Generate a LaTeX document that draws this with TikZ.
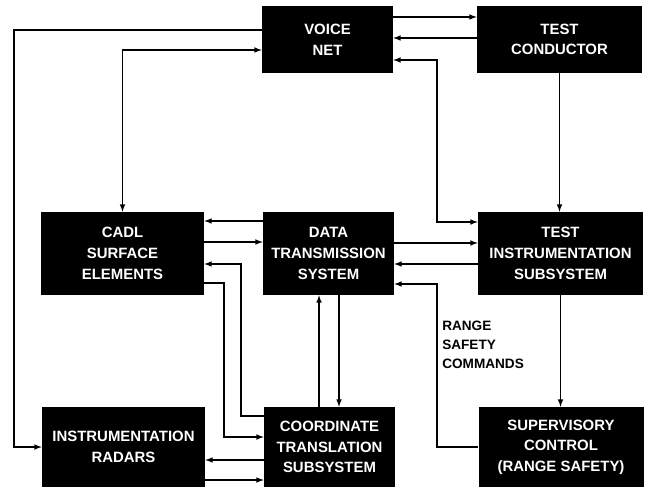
\documentclass[tikz,border=0pt]{standalone}
\usepackage{fontspec}
\setmainfont{Liberation Sans}
\usetikzlibrary{arrows}

\tikzset{
  blk/.style={fill=black, text=white, align=center, inner sep=0pt, font=\fontsize{11.2}{15.5}\selectfont\bfseries},
  wl/.style={minimum width=122.25pt}, wm/.style={minimum width=98.25pt}, wr/.style={minimum width=123.75pt},
  ht/.style={minimum height=50.25pt}, hm/.style={minimum height=62.25pt}, hb/.style={minimum height=60pt},
  wire/.style={line width=0.9pt, >=latex},
  lbl/.style={align=left, inner sep=0pt, font=\fontsize{10.2}{14.25}\selectfont\bfseries},
}

\begin{document}
\begin{tikzpicture}[x=0.75pt, y=-0.75pt]
\useasboundingbox (0,0) rectangle (652,491);
\node[blk, wm, ht] (VN) at (327.5,39.5) {VOICE\\NET};
\node[blk, wr, ht] (TC) at (559.5,39.5) {TEST\\CONDUCTOR};
\node[blk, wl, hm] (CADL) at (122.5,253.5) {CADL\\SURFACE\\ELEMENTS};
\node[blk, wm, hm] (DTS) at (328.5,253.5) {DATA\\TRANSMISSION\\SYSTEM};
\node[blk, wr, hm] (TIS) at (560.5,253.5) {TEST\\INSTRUMENTATION\\SUBSYSTEM};
\node[blk, wl, hb] (RAD) at (123.5,447) {INSTRUMENTATION\\RADARS};
\node[blk, wm, hb] (CTS) at (329.5,447) {COORDINATE\\TRANSLATION\\SUBSYSTEM};
\node[blk, wr, hb] (SC) at (561,447) {SUPERVISORY\\CONTROL\\(RANGE SAFETY)};
\node[lbl, anchor=north west] (RSC) at (442,321) {RANGE\\SAFETY\\COMMANDS};
\foreach \a/\b/\y in {VN.east/TC.west/17,TC.west/VN.east/38,DTS.west/CADL.east/221,CADL.east/DTS.west/242,DTS.east/TIS.west/243,TIS.west/DTS.east/264,CTS.west/RAD.east/460,RAD.east/CTS.west/480}
  \draw[wire,->] (\a |- 0,\y) -- (\b |- 0,\y);
\draw[wire,->] (VN.west |- 0,30) -| (14,447) -- (RAD.west);
\draw[wire,<->] (VN.west |- 0,50) -| (CADL.north);
\draw[wire,<->] (VN.east |- 0,60) -| (437,222) -- (TIS.west |- 0,222);
\draw[wire,->] (TC.south) -- (TC.south |- TIS.north);
\draw[wire,->] (TIS.south) -- (TIS.south |- SC.north);
\draw[wire,->] (SC.west) -| (437,284) -- (DTS.east |- 0,284);
\draw[wire,->] (CTS.west |- 0,416) -| (241,264) -- (CADL.east |- 0,264);
\draw[wire,->] (CADL.east |- 0,283) -| (224,437) -- (CTS.west |- 0,437);
\draw[wire,->] (CTS.north -| 319,0) -- (DTS.south -| 319,0);
\draw[wire,->] (DTS.south -| 339,0) -- (CTS.north -| 339,0);
\end{tikzpicture}
\end{document}
